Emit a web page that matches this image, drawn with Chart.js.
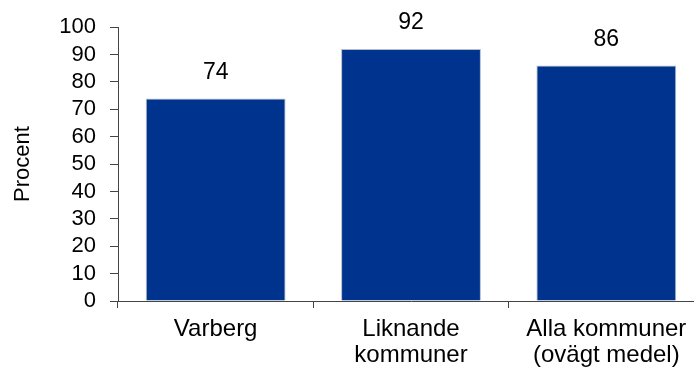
<!DOCTYPE html>
<html>
<head>
<meta charset="utf-8">
<script src="https://cdn.jsdelivr.net/npm/chart.js@4"></script>
<style>
    html, body { margin: 0; padding: 0; background: #fff; overflow: hidden; }
    #wrap { position: relative; width: 720px; height: 370px; }
</style>
</head>
<body>
<div id="wrap"><canvas id="mainChart"></canvas></div>
<script>
// Chart data
const categories = ['Varberg', ['Liknande', 'kommuner'], ['Alla kommuner', '(ovägt medel)']];
const values = [74, 92, 86];
const yTicks = [0, 10, 20, 30, 40, 50, 60, 70, 80, 90, 100];

const FONT = 'Liberation Sans, Arial, sans-serif';

// Value labels above the bars
const valueLabels = {
    id: 'valueLabels',
    afterDatasetsDraw(chart) {
        const ctx = chart.ctx;
        const meta = chart.getDatasetMeta(0);
        ctx.save();
        ctx.font = '23px ' + FONT;
        ctx.fillStyle = '#000';
        ctx.textAlign = 'center';
        ctx.textBaseline = 'middle';
        meta.data.forEach((bar, i) => {
            ctx.fillText(values[i], bar.x, bar.y - 26);
        });
        ctx.restore();
    }
};

const ctx = document.getElementById('mainChart').getContext('2d');
const mainChart = new Chart(ctx, {
    type: 'bar',
    data: {
        labels: categories,
        datasets: [{
            data: values,
            backgroundColor: '#00338d',
            borderColor: '#b4bccb',
            borderWidth: 1,
            categoryPercentage: 0.716,
            barPercentage: 1
        }]
    },
    options: {
        responsive: true,
        maintainAspectRatio: false,
        animation: false,
        layout: { padding: { left: 0, top: 26, right: 16, bottom: 0 } },
        plugins: {
            legend: { display: false },
            tooltip: { enabled: false }
        },
        scales: {
            y: {
                min: 0,
                max: 100,
                afterBuildTicks: (scale) => {
                    scale.ticks = yTicks.map(v => ({ value: v }));
                },
                afterFit: (scale) => { scale.width = 118; },
                ticks: {
                    color: '#000',
                    padding: 14,
                    autoSkip: false,
                    font: { family: FONT, size: 22 }
                },
                grid: {
                    drawOnChartArea: false,
                    drawTicks: true,
                    tickLength: 8,
                    color: '#444'
                },
                border: { display: true, color: '#444', width: 1 },
                title: {
                    display: true,
                    text: 'Procent',
                    color: '#000',
                    padding: { top: 10, bottom: 0 },
                    font: { family: FONT, size: 22 }
                }
            },
            x: {
                afterFit: (scale) => { scale.height = 69; },
                ticks: {
                    color: '#000',
                    padding: 8,
                    font: { family: FONT, size: 24, lineHeight: 1.1 }
                },
                grid: {
                    offset: true,
                    drawOnChartArea: false,
                    drawTicks: true,
                    tickLength: 7,
                    color: '#444'
                },
                border: { display: true, color: '#444', width: 1 }
            }
        }
    },
    plugins: [valueLabels]
});
</script>
</body>
</html>
